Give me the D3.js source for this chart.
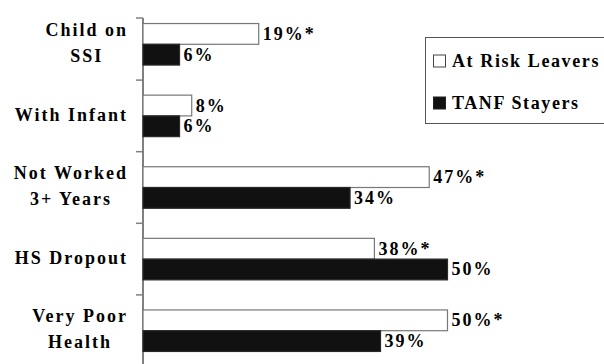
<!DOCTYPE html>
<html>
<head>
<meta charset="utf-8">
<script src="https://cdn.jsdelivr.net/npm/d3@7"></script>
<style>
  html, body { margin: 0; padding: 0; background: #fff; }
  svg { display: block; }
  text { font-family: "Liberation Serif", "Times New Roman", serif; font-weight: bold; font-size: 18px; letter-spacing: 2px; fill: #000; }
  text.leg { letter-spacing: 1.6px; }
</style>
</head>
<body>
<script>
const categories = [["Child on", "SSI"], ["With Infant"], ["Not Worked", "3+ Years"], ["HS Dropout"], ["Very Poor", "Health"]];
const seriesNames = ["At Risk Leavers", "TANF Stayers"];
const atRiskLeavers = [19, 8, 47, 38, 50];
const tanfStayers = [6, 6, 34, 50, 39];
const atRiskSignificant = [true, false, true, true, true];

const W = 604, H = 364;
const svg = d3.select("body").append("svg").attr("width", W).attr("height", H);

const catKeys = categories.map(c => c.join(" "));
const x = d3.scaleLinear().domain([0, 50]).range([143, 447.5]);
const y = d3.scaleBand().domain(catKeys).range([8.5, 366.5]).paddingInner(0.42).paddingOuter(0.21);
const sub = d3.scaleBand().domain(seriesNames).range([0, y.bandwidth()]);

const fills = { "At Risk Leavers": "#ffffff", "TANF Stayers": "#111111" };
const strokes = { "At Risk Leavers": "#777777", "TANF Stayers": "#2a2a2a" };

const rows = catKeys.map((k, i) => ({
  key: k, lines: categories[i],
  vals: [
    { s: seriesNames[0], v: atRiskLeavers[i], star: atRiskSignificant[i] },
    { s: seriesNames[1], v: tanfStayers[i], star: false }
  ]
}));

// axis line and ticks
const step = y.step();
const ax = svg.append("g");
ax.append("line").attr("x1", x(0)).attr("x2", x(0)).attr("y1", 18).attr("y2", H)
  .attr("stroke", "#808080").attr("stroke-width", 2);
const tickYs = [18].concat(catKeys.slice(1).map(k => y(k) - step * 0.21));
ax.selectAll("line.tick").data(tickYs).enter().append("line").attr("class", "tick")
  .attr("x1", x(0) - 7).attr("x2", x(0)).attr("y1", d => d).attr("y2", d => d)
  .attr("stroke", "#808080").attr("stroke-width", 1.5);

// bars
const g = svg.selectAll("g.row").data(rows).enter().append("g").attr("class", "row")
  .attr("transform", d => `translate(0,${y(d.key)})`);
g.selectAll("rect").data(d => d.vals).enter().append("rect")
  .attr("x", x(0)).attr("y", d => sub(d.s))
  .attr("width", d => x(d.v) - x(0)).attr("height", sub.bandwidth())
  .attr("fill", d => fills[d.s]).attr("stroke", d => strokes[d.s]).attr("stroke-width", 1.2);
g.selectAll("text.val").data(d => d.vals).enter().append("text").attr("class", "val")
  .attr("x", d => x(d.v) + 4).attr("y", d => sub(d.s) + sub.bandwidth() / 2 + 6)
  .text(d => d.v + "%" + (d.star ? "*" : ""));

// category labels (lines centred, block right-aligned)
rows.forEach(r => {
  const c = y(r.key) + y.bandwidth() / 2;
  const lg = svg.append("g");
  const n = r.lines.length;
  r.lines.forEach((ln, j) => {
    const base = n === 1 ? c + 5 : (j === 0 ? c - 8.5 : c + 17.5);
    lg.append("text").attr("text-anchor", "middle").attr("x", 0).attr("y", base).text(ln);
  });
  const bb = lg.node().getBBox();
  lg.attr("transform", `translate(${128 - (bb.x + bb.width)},0)`);
});

// legend
const leg = svg.append("g");
leg.append("rect").attr("x", 425.5).attr("y", 37.5).attr("width", 200).attr("height", 86)
  .attr("fill", "#fff").attr("stroke", "#555").attr("stroke-width", 1);
const legY = [61, 103];
seriesNames.forEach((s, i) => {
  leg.append("rect").attr("x", 433.5).attr("y", legY[i] - 6).attr("width", 12).attr("height", 12)
    .attr("fill", fills[s]).attr("stroke", s === seriesNames[0] ? "#444" : "#222").attr("stroke-width", 1);
  leg.append("text").attr("class", "leg").attr("x", 452).attr("y", legY[i] + 6).text(s);
});
</script>
</body>
</html>
